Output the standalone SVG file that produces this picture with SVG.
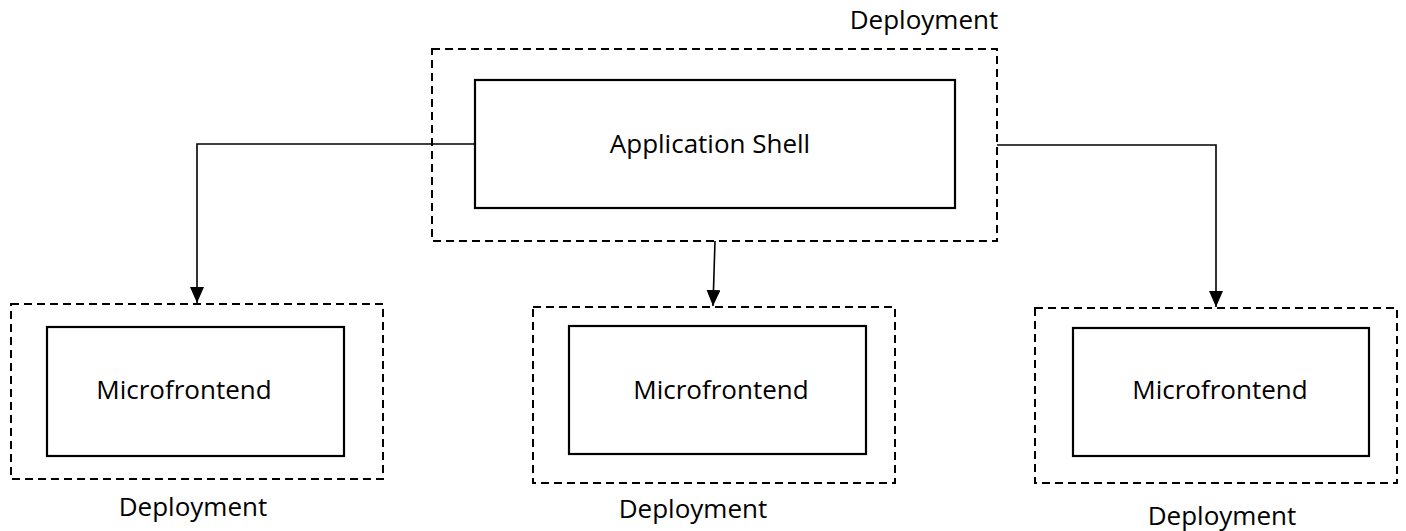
<svg xmlns="http://www.w3.org/2000/svg" width="1406" height="531" viewBox="0 0 1406 531">
  <style>
    .deploy { fill: none; stroke: #000; stroke-width: 2; stroke-dasharray: 8 5; }
    .box { fill: #fff; stroke: #000; stroke-width: 2.2; }
    .label { font-family: "Open Sans", "Liberation Sans", sans-serif; font-size: 26px; fill: #000; text-anchor: middle; }
    .link { fill: none; stroke: #000; stroke-width: 1.6; }
  </style>
  <defs>
    <marker id="arrow" markerUnits="userSpaceOnUse" markerWidth="16" markerHeight="14" refX="16" refY="7" orient="auto">
      <path d="M0,0 L16,7 L0,14 Z" fill="#000"/>
    </marker>
  </defs>
  <rect width="1406" height="531" fill="#fff"/>

  <!-- connectors from the shell to each microfrontend deployment -->
  <g id="connectors">
    <path class="link" d="M475,144 H197 V303" marker-end="url(#arrow)"/>
    <path class="link" d="M715,241 L713,306" marker-end="url(#arrow)"/>
    <path class="link" d="M997,145 H1216 V307" marker-end="url(#arrow)"/>
  </g>

  <!-- application shell and its deployment boundary -->
  <g id="shell">
    <rect class="deploy" x="432" y="49" width="565" height="192"/>
    <rect class="box" x="475" y="80" width="480" height="128"/>
    <text class="label" x="710" y="153">Application Shell</text>
    <text class="label" x="924" y="29">Deployment</text>
  </g>

  <g id="mfe-left">
    <rect class="deploy" x="11" y="304" width="372" height="175"/>
    <rect class="box" x="47" y="327" width="297" height="129"/>
    <text class="label" x="184" y="399">Microfrontend</text>
    <text class="label" x="193" y="516">Deployment</text>
  </g>

  <g id="mfe-middle">
    <rect class="deploy" x="533" y="307" width="362" height="176"/>
    <rect class="box" x="569" y="326" width="297" height="128"/>
    <text class="label" x="721" y="399">Microfrontend</text>
    <text class="label" x="693" y="518">Deployment</text>
  </g>

  <g id="mfe-right">
    <rect class="deploy" x="1035" y="308" width="362" height="175"/>
    <rect class="box" x="1073" y="328" width="296" height="128"/>
    <text class="label" x="1220" y="399">Microfrontend</text>
    <text class="label" x="1222" y="525">Deployment</text>
  </g>
</svg>
